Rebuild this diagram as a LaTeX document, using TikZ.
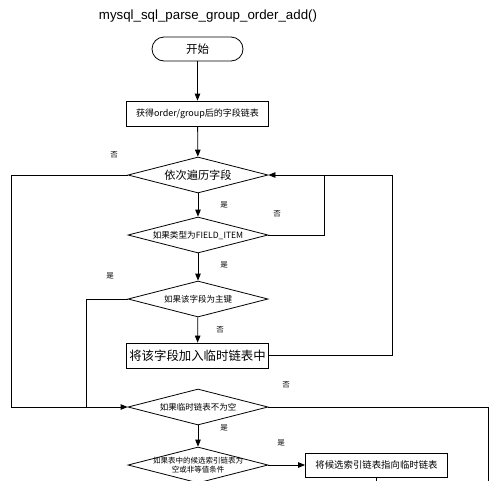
\documentclass[tikz,border=0pt]{standalone}
\usepackage{fontspec}
\setmainfont{Liberation Sans}
\newfontfamily\cjk{Noto Sans CJK SC}
\usetikzlibrary{shapes.geometric,arrows.meta}
\begin{document}
\begin{tikzpicture}[x=1pt,y=-1pt,
  line width=0.8pt,
  arr/.style={-{Triangle[length=7pt,width=5.5pt]}},
  boxn/.style={draw,minimum width=142pt,minimum height=25pt,inner sep=0pt,font=\cjk},
  dia/.style={diamond,draw,minimum width=140pt,minimum height=36pt,inner sep=0pt},
  lbl/.style={font=\cjk\fontsize{7.5}{9}\selectfont,inner sep=0pt}]
\useasboundingbox (0,0) rectangle (500,480);
\clip (0,0) rectangle (500,480);
\node[font=\fontsize{13.3}{15}\selectfont,inner sep=0pt] (title) at (208,16) {mysql\_sql\_parse\_group\_order\_add()};
\node[draw,rounded corners=12pt,minimum width=91pt,minimum height=24pt,inner sep=0pt,font=\cjk\fontsize{11.5}{13}\selectfont] (start) at (197.5,49) {开始};
\node[boxn,font=\cjk\fontsize{9}{11}\selectfont] (b1) at (197.5,113.5) {获得order/group后的字段链表};
\node[dia,label={[font=\cjk\fontsize{11.2}{13}\selectfont]center:依次遍历字段}] (d1) at (198,175) {};
\node[dia,label={[font=\cjk\fontsize{8.6}{10}\selectfont]center:如果类型为FIELD\_ITEM}] (d2) at (198,235) {};
\node[dia,label={[font=\cjk\fontsize{8.5}{10}\selectfont]center:如果该字段为主键}] (d3) at (198,299) {};
\node[boxn,font=\cjk\fontsize{12.4}{14}\selectfont] (b2) at (197.5,355.5) {将该字段加入临时链表中};
\node[dia,label={[font=\cjk\fontsize{8.5}{10}\selectfont]center:如果临时链表不为空}] (d4) at (198,407) {};
\node[dia,label={[font=\cjk\fontsize{7.5}{9}\selectfont,align=center,inner sep=0pt]center:如果表中的候选索引链表为\\空或非等值条件}] (d5) at (198,465) {};
\node[boxn,minimum height=24pt,font=\cjk\fontsize{9.4}{11}\selectfont] (b3) at (376.5,465) {将候选索引链表指向临时链表};
% coordinates
\coordinate (lo) at (11,407);
\coordinate (li) at (86,407);
\coordinate (c2) at (324,175);
\coordinate (c3) at (392,175);
\coordinate (c4) at (488,500);
\coordinate (c5) at (376,500);
% connectors
\draw[arr] (start) -- (b1);
\draw[arr] (b1) -- (d1);
\draw[arr] (d1) -- (d2);
\draw[arr] (d2) -- (d3);
\draw[arr] (d3) -- (b2);
\draw[arr] (d4) -- (d5);
\draw[arr] (d5) -- (b3);
\draw[arr] (d1.west) -| (lo) -- (d4.west);
\draw (d3.west) -| (li);
\draw[arr] (d2.east) -| (c2) -- (d1.east);
\draw (b2.east) -| (c3) -- (c2);
\draw (d4.east) -| (c4);
\draw (b3.south) -- (c5);
% labels
\node[lbl] (l1) at (114,155) {否};
\node[lbl] (l2) at (224,205) {是};
\node[lbl] (l3) at (277,214) {否};
\node[lbl] (l4) at (224,265) {是};
\node[lbl] (l5) at (110,276) {是};
\node[lbl] (l6) at (220,330) {否};
\node[lbl] (l7) at (286,385) {否};
\node[lbl] (l8) at (224,428) {是};
\node[lbl] (l9) at (281,443) {是};
\end{tikzpicture}
\end{document}
